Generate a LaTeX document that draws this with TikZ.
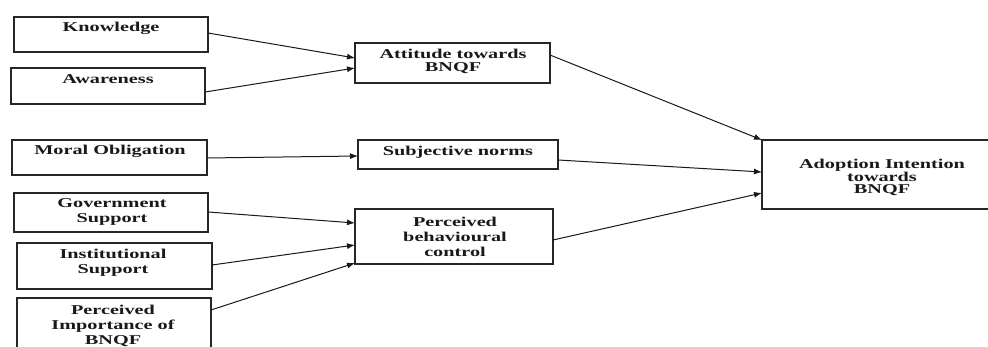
\documentclass[tikz,border=0pt]{standalone}
\usepackage{fontspec}
\setmainfont{Liberation Serif}[FakeStretch=1.5]
\usetikzlibrary{arrows.meta,calc}

\tikzset{
  box/.style={draw=black!85, line width=1.3pt, inner sep=0pt, outer sep=0pt, fill=none},
  lbl/.style={inner sep=0pt, align=center, text=black!90,
              font=\bfseries\fontsize{13.5}{15}\selectfont},
  arr/.style={draw=black!90, line width=1pt, -{Latex[length=8pt,width=6pt]}},
}
% box from pixel corners (x1,y1) to (x2,y2)
\newcommand{\pbox}[5]{%
  \node[box, minimum width={(#4-#2)*1pt}, minimum height={(#5-#3)*1pt}]
    (#1) at ({(#2+#4)/2},{(#3+#5)/2}) {};}

\begin{document}
\begin{tikzpicture}[x=1pt, y=-1pt]
  \useasboundingbox (0,0) rectangle (988,347);
  \clip (0,0) rectangle (988,347);

  % left column: antecedents
  \pbox{know}{14}{17}{208}{52}
  \pbox{aware}{11}{68}{205}{104}
  \pbox{moral}{12}{140}{207}{175}
  \pbox{gov}{14}{193}{208}{232}
  \pbox{inst}{17}{243}{212}{289}
  \pbox{pimp}{17}{298}{211}{362}

  % middle column: TPB constructs
  \pbox{att}{355}{43}{550}{83}
  \pbox{subj}{358}{140}{558}{169}
  \pbox{pbc}{355}{209}{553}{264}

  % outcome
  \pbox{adopt}{762}{140}{1000}{209}

  % labels
  \node[lbl] (knowT)  at (111,28.5) {Knowledge};
  \node[lbl] (awareT) at (108,79) {Awareness};
  \node[lbl] (moralT) at (110,151) {Moral Obligation};
  \node[lbl] (govT)   at (112,211.5) {Government\\Support};
  \node[lbl] (instT)  at (113,262.5) {Institutional\\Support};
  \node[lbl] (pimpT)  at (113,326) {Perceived\\Importance of\\BNQF};
  \node[lbl, font=\bfseries\fontsize{13.5}{13}\selectfont] (attT) at (453,61.5) {Attitude towards\\BNQF};
  \node[lbl] (subjT)  at (458,152.5) {Subjective norms};
  \node[lbl] (pbcT)   at (455,236.5) {Perceived\\behavioural\\control};
  \node[lbl, font=\bfseries\fontsize{13.5}{12.5}\selectfont] (adoptT) at (882,177.5) {Adoption Intention\\towards\\BNQF};

  % paths into the constructs
  \draw[arr] ($(know.east)+(0,-1.5)$)  -- ($(att.west)+(0,-5)$);
  \draw[arr] ($(aware.east)+(0,6)$)    -- ($(att.west)+(0,5)$);
  \draw[arr] ($(moral.east)+(0,0.5)$)  -- ($(subj.west)+(0,1.5)$);
  \draw[arr] ($(gov.east)+(0,-0.5)$)   -- ($(pbc.west)+(0,-13.5)$);
  \draw[arr] ($(inst.east)+(0,-1)$)    -- ($(pbc.west)+(0,8.5)$);
  \draw[arr] ($(pimp.east)+(0,-20)$)   -- ($(pbc.west)+(0,26.5)$);

  % paths into adoption intention
  \draw[arr] ($(att.east)+(0,-8)$)   -- (adopt.north west);
  \draw[arr] ($(subj.east)+(0,5.5)$) -- ($(adopt.west)+(0,-2.5)$);
  \draw[arr] ($(pbc.east)+(0,3.5)$)  -- ($(adopt.west)+(0,18.5)$);
\end{tikzpicture}
\end{document}
